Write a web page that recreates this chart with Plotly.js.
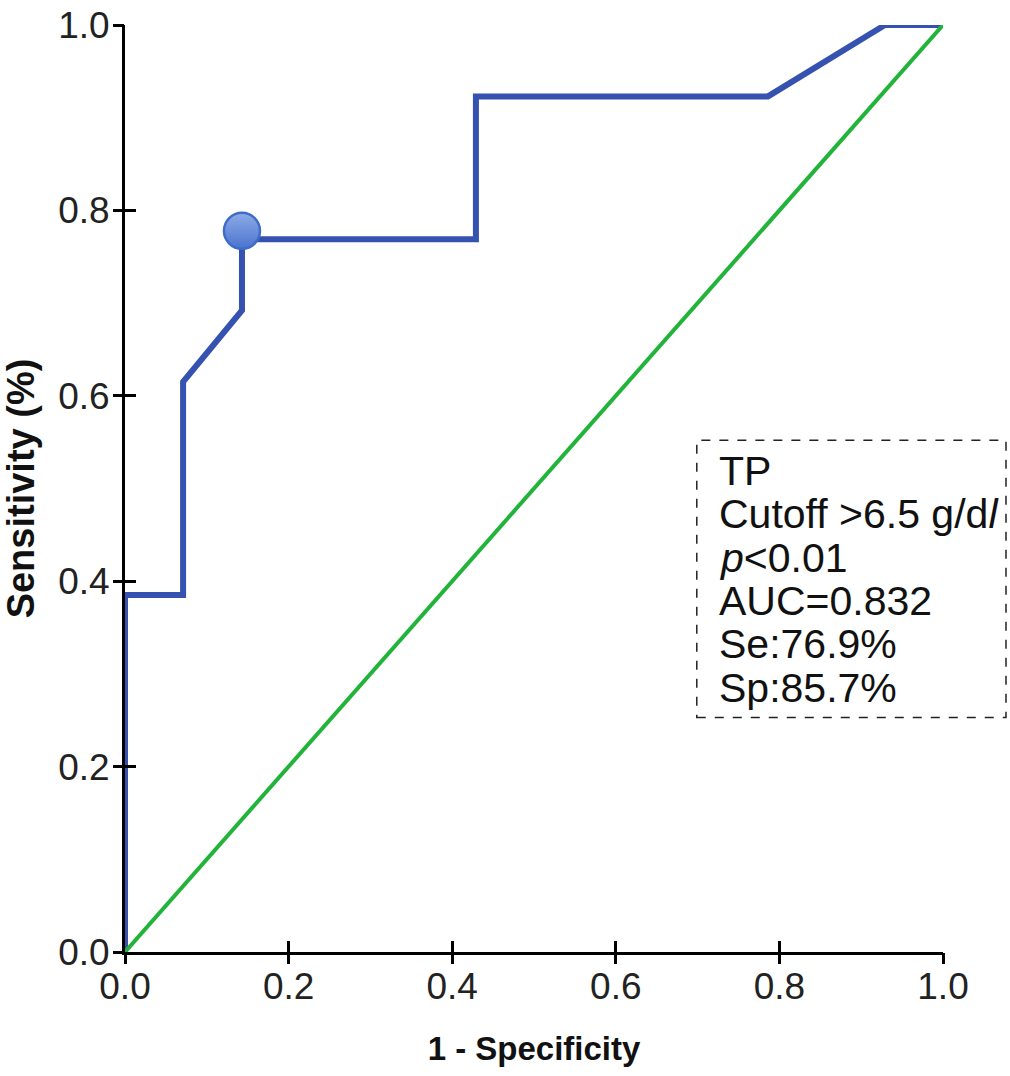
<!DOCTYPE html>
<html>
<head>
<meta charset="utf-8">
<script src="https://cdn.plot.ly/plotly-3.0.1.min.js"></script>
<style>html,body{margin:0;padding:0;background:#fff;}#chart{width:1010px;height:1076px;}</style>
</head>
<body>
<div id="chart"></div>
<script>
// ROC curve data (1 - specificity vs sensitivity)
var fpr = [0, 0, 0.071, 0.071, 0.143, 0.143, 0.429, 0.429, 0.786, 0.929, 1.0];
var tpr = [0, 0.385, 0.385, 0.615, 0.692, 0.769, 0.769, 0.923, 0.923, 1.0, 1.0];
var refX = [0, 1];
var refY = [0, 1];
var cutX = [0.143];
var cutY = [0.778];
var tickVals = [0, 0.2, 0.4, 0.6, 0.8, 1.0];
var tickText = ['0.0', '0.2', '0.4', '0.6', '0.8', '1.0'];
var boxLines = ['TP', 'Cutoff >6.5 g/d<i>l</i>', '<i>p</i><0.01', 'AUC=0.832', 'Se:76.9%', 'Sp:85.7%'];

var sans = '"Liberation Sans", Arial, sans-serif';

var traces = [
  {x: fpr, y: tpr, mode: 'lines', line: {color: '#3652b0', width: 6}, showlegend: false},
  {x: refX, y: refY, xaxis: 'x2', yaxis: 'y2', mode: 'lines', line: {color: '#22b33a', width: 4}, showlegend: false},
  {x: cutX, y: cutY, xaxis: 'x2', yaxis: 'y2', mode: 'markers', showlegend: false,
   marker: {size: 36, color: '#8eabe6', gradient: {type: 'vertical', color: '#4a74cf'}, line: {color: '#3f6cc8', width: 2.5}}}
];

var layout = {
  width: 1010, height: 1076,
  margin: {l: 125, r: 67, t: 25, b: 124},
  paper_bgcolor: '#fff', plot_bgcolor: '#fff',
  xaxis: {
    range: [0, 1], tickvals: tickVals, ticktext: tickText, showgrid: false, zeroline: false,
    showline: true, linecolor: '#000', linewidth: 3, ticks: 'inside', ticklen: 11, tickwidth: 3, tickcolor: '#000',
    tickfont: {family: sans, size: 37, color: '#222'}, ticklabelstandoff: 0, fixedrange: true,
    title: {text: '1 - Specificity', font: {family: sans, size: 33, color: '#111', weight: 'bold'}, standoff: 31},
    automargin: false
  },
  yaxis: {
    range: [0, 1], tickvals: tickVals, ticktext: tickText, showgrid: false, zeroline: false,
    showline: true, linecolor: '#000', linewidth: 3, ticks: 'inside', ticklen: 11, tickwidth: 3, tickcolor: '#000',
    tickfont: {family: sans, size: 37, color: '#222'}, ticklabelstandoff: 5, fixedrange: true,
    title: {text: 'Sensitivity (%)', font: {family: sans, size: 38, color: '#111', weight: 'bold'}, standoff: 18},
    automargin: false
  },
  xaxis2: {overlaying: 'x', anchor: 'y2', side: 'bottom', range: [0, 1], tickvals: tickVals, showticklabels: false,
    ticks: 'outside', ticklen: 11, tickwidth: 3, tickcolor: '#000', showgrid: false, zeroline: false, showline: false, fixedrange: true},
  yaxis2: {overlaying: 'y', anchor: 'x2', side: 'left', range: [0, 1], tickvals: tickVals, showticklabels: false,
    ticks: 'outside', ticklen: 11, tickwidth: 3, tickcolor: '#000', showgrid: false, zeroline: false, showline: false, fixedrange: true},
  shapes: [
    {type: 'rect', xref: 'paper', yref: 'paper', x0: 0.699, x1: 1.077, y0: 0.253, y1: 0.552,
     line: {color: '#222', width: 1.5, dash: 'dash'}, fillcolor: 'rgba(0,0,0,0)'}
  ],
  annotations: []
};

var lineTop = 0.519;
var lineStep = 0.0468;
for (var i = 0; i < boxLines.length; i++) {
  layout.annotations.push({
    xref: 'paper', yref: 'paper', x: 0.724, y: lineTop - i * lineStep, xanchor: 'left', yanchor: 'middle',
    text: boxLines[i], showarrow: false, align: 'left',
    font: {family: sans, size: 41, color: '#111'}
  });
}

Plotly.newPlot('chart', traces, layout, {displayModeBar: false, staticPlot: true});
</script>
</body>
</html>
